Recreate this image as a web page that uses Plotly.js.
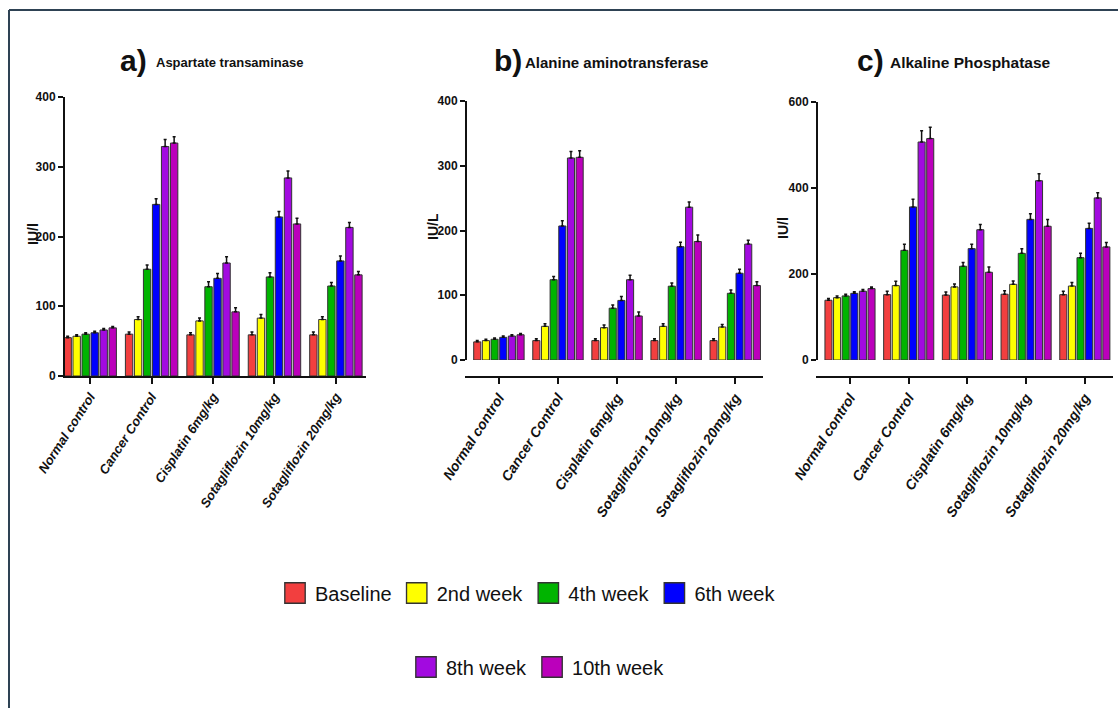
<!DOCTYPE html>
<html>
<head>
<meta charset="utf-8">
<script src="https://cdn.plot.ly/plotly-3.0.1.min.js"></script>
<style>html,body{margin:0;padding:0;background:#fff;}#chart{width:1118px;height:708px;}</style>
</head>
<body>
<div id="chart"></div>
<script>
// ---------- DATA ----------
const groups = ["Normal control", "Cancer Control", "Cisplatin 6mg/kg", "Sotagliflozin 10mg/kg", "Sotagliflozin 20mg/kg"];
const weeks = ["Baseline", "2nd week", "4th week", "6th week", "8th week", "10th week"];
const weekColors = ["#f23f3f", "#ffff00", "#00b400", "#0000ff", "#a20ae0", "#bb00bb"];

// a) Aspartate transaminase (IU/l) — rows = weeks, columns = groups
const astValues = [
  [55, 60, 59, 59, 59],
  [57, 81, 79, 83, 81],
  [60, 153, 128, 142, 129],
  [62, 246, 140, 228, 165],
  [66, 329, 162, 284, 213],
  [69, 334, 92, 218, 145]
];
const astErrors = [
  [2, 3, 3, 4, 4],
  [2, 4, 4, 5, 4],
  [2, 6, 7, 6, 5],
  [2, 8, 7, 8, 7],
  [2, 10, 9, 10, 7],
  [2, 9, 6, 8, 5]
];

// b) Alanine aminotransferase (IU/L)
const altValues = [
  [28, 30, 30, 30, 30],
  [30, 52, 50, 52, 51],
  [32, 124, 80, 114, 103],
  [35, 207, 92, 175, 134],
  [37, 312, 124, 236, 179],
  [39, 313, 68, 183, 115]
];
const altErrors = [
  [2, 3, 3, 3, 3],
  [2, 4, 4, 4, 4],
  [2, 5, 5, 5, 5],
  [2, 8, 6, 7, 6],
  [2, 10, 7, 8, 6],
  [2, 10, 6, 10, 6]
];

// c) Alkaline Phosphatase (IU/l)
const alpValues = [
  [139, 152, 151, 153, 152],
  [145, 173, 170, 176, 172],
  [149, 255, 218, 248, 238],
  [155, 356, 259, 327, 306],
  [160, 507, 303, 417, 377],
  [166, 515, 204, 311, 263]
];
const alpErrors = [
  [4, 8, 7, 8, 8],
  [4, 10, 7, 8, 8],
  [4, 14, 9, 11, 10],
  [4, 18, 10, 13, 12],
  [4, 26, 12, 16, 12],
  [4, 26, 12, 16, 10]
];

// ---------- HELPERS (page pixel -> paper) ----------
const W = 1118, H = 708;
const px = x => x / W;
const py = y => 1 - y / H;

const SANS = "'Liberation Sans', Arial, 'Helvetica Neue', sans-serif";

const traces = [];
function addPanel(values, errors, xa, ya, legendOn) {
  weeks.forEach((wk, i) => {
    traces.push({
      type: "bar",
      name: wk,
      x: groups,
      y: values[i],
      xaxis: xa,
      yaxis: ya,
      marker: { color: weekColors[i], line: { color: "#333333", width: 1 } },
      error_y: { type: "data", array: errors[i], arrayminus: errors[i].map(() => 0), symmetric: false,
                 color: "#111111", thickness: 1.5, width: 1.5 },
      showlegend: legendOn,
      legend: i < 4 ? "legend" : "legend2",
      hoverinfo: "x+y+name"
    });
  });
}
addPanel(astValues, astErrors, "x", "y", true);
addPanel(altValues, altErrors, "x2", "y2", false);
addPanel(alpValues, alpErrors, "x3", "y3", false);

function xAxis(domain, range, fontSize) {
  return {
    domain: domain, range: range, type: "category",
    showline: true, linecolor: "#111", linewidth: 2,
    ticks: "outside", ticklen: 6, tickwidth: 2, tickcolor: "#111",
    tickangle: -57, showgrid: false, zeroline: false, fixedrange: true,
    tickfont: { family: SANS, size: fontSize, color: "#111", style: "italic", weight: "bold" }
  };
}
function yAxis(domain, range, dtick, fontSize, anchor) {
  return {
    domain: domain, range: range, dtick: dtick, anchor: anchor,
    showline: true, linecolor: "#111", linewidth: 2,
    ticks: "outside", ticklen: 5, tickwidth: 2, tickcolor: "#111", ticklabelstandoff: 0,
    showgrid: false, zeroline: false, fixedrange: true,
    tickfont: { family: SANS, size: fontSize, color: "#111", weight: "bold" }
  };
}

const titleFont = (s) => ({ family: SANS, size: s, color: "#111", weight: "bold" });
const bigFont = { family: SANS, size: 30, color: "#111", weight: "bold" };
const ann = [];
function panelTitle(letter, lx, text, tx, size) {
  ann.push({ text: letter, x: px(lx), y: py(60), xref: "paper", yref: "paper", xanchor: "center", yanchor: "middle", showarrow: false, font: bigFont });
  ann.push({ text: text, x: px(tx), y: py(62), xref: "paper", yref: "paper", xanchor: "left", yanchor: "middle", showarrow: false, font: titleFont(size) });
}
panelTitle("a)", 133, "Aspartate transaminase", 154, 13);
panelTitle("b)", 508, "Alanine aminotransferase", 523, 15);
panelTitle("c)", 870, "Alkaline Phosphatase", 888, 15.5);

function yTitle(text, x, y) {
  ann.push({ text: text, x: px(x), y: py(y), xref: "paper", yref: "paper", xanchor: "center", yanchor: "middle", textangle: -90, showarrow: false, font: titleFont(14) });
}
yTitle("IU/l", 33, 234);
yTitle("IU/L", 433, 227);
yTitle("IU/l", 783, 228);

const legendFont = { family: SANS, size: 20, color: "#111" };
const layout = {
  width: W, height: H,
  margin: { l: 0, r: 0, t: 0, b: 0 },
  paper_bgcolor: "#ffffff", plot_bgcolor: "rgba(0,0,0,0)",
  barmode: "group", bargap: 0.12, bargroupgap: 0.18,
  xaxis: xAxis([px(65), px(366)], [-0.41, 4.49], 13),
  yaxis: yAxis([py(376), py(97)], [0, 400], 100, 12, "x"),
  xaxis2: xAxis([px(467), px(763)], [-0.54, 4.47], 14),
  yaxis2: yAxis([py(360), py(101)], [0, 400], 100, 12, "x2"),
  xaxis3: xAxis([px(818), px(1113)], [-0.545, 4.48], 14),
  yaxis3: yAxis([py(360), py(102)], [0, 600], 200, 12, "x3"),
  legend: { orientation: "h", x: px(528), xanchor: "center", y: py(593), yanchor: "middle",
            font: legendFont, itemclick: false, itemdoubleclick: false },
  legend2: { orientation: "h", x: px(538), xanchor: "center", y: py(667), yanchor: "middle",
            font: legendFont, itemclick: false, itemdoubleclick: false },
  annotations: ann,
  shapes: [
    { type: "line", xref: "paper", yref: "paper", x0: px(9), x1: 1, y0: py(10), y1: py(10), line: { color: "#2e4254", width: 2 } },
    { type: "line", xref: "paper", yref: "paper", x0: px(9), x1: px(9), y0: py(10), y1: 0, line: { color: "#2e4254", width: 2 } }
  ]
};

Plotly.newPlot("chart", traces, layout, { displayModeBar: false }).then(gd => {
  // enlarge the legend swatches (both legends) to match the reference's square boxes
  gd.querySelectorAll(".legendpoints path").forEach(p => {
    p.setAttribute("transform", "translate(20,0) scale(1.7)");
    p.style.strokeWidth = "0.8px";
  });
});
</script>
</body>
</html>
